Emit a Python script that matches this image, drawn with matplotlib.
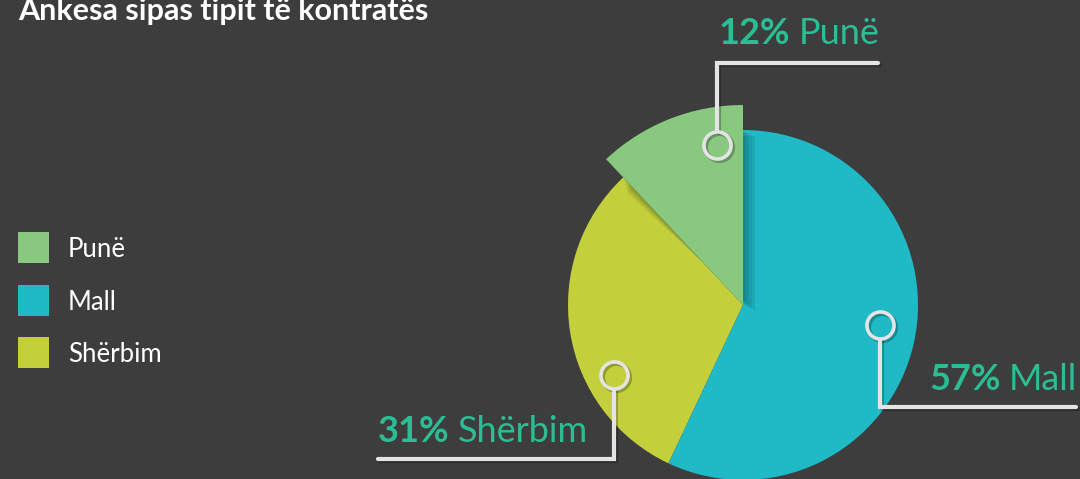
"""Pie chart of complaints by contract type, with callout labels."""

import matplotlib
matplotlib.use('Agg')
import matplotlib.pyplot as plt
from matplotlib.patches import Wedge, Circle, Rectangle

# data
categories = ['Punë', 'Shërbim', 'Mall']
shares = [12, 31, 57]
legend_order = ['Punë', 'Mall', 'Shërbim']
colors = {'Punë': '#88c97f', 'Mall': '#20b9c6', 'Shërbim': '#c3d03c'}
title = 'Ankesa sipas tipit të kontratës'

BG = '#3d3d3d'
LABEL = '#2bbd93'
LINE = '#e4e4e4'
FONT = 'Lato'

W, H = 1080, 479
CX, CY = 743, 174      # pie centre in pixel coords (y up)
R = 175
R_BIG = 200             # Punë slice sticks out

# callout layout: ring, elbow, end of line, label start
callouts = {
    'Punë':    dict(ring=(717, 334), elbow=(717, 416), end=(878, 416), text=(719, 429)),
    'Mall':    dict(ring=(880, 154), elbow=(880, 72), end=(1076, 72), text=(929, 83)),
    'Shërbim': dict(ring=(614, 104), elbow=(614, 20), end=(378, 20), text=(378, 31)),
}

fig = plt.figure(figsize=(W / 100, H / 100), dpi=100, facecolor=BG)
ax = fig.add_axes([0, 0, 1, 1])
ax.set_facecolor(BG)

wedges, _ = ax.pie(shares, colors=[colors[c] for c in categories], radius=R,
                   center=(CX, CY), startangle=90, counterclock=True, frame=True,
                   wedgeprops=dict(linewidth=0))
pune = wedges[categories.index('Punë')]
pune.set_radius(R_BIG)
pune.set_zorder(3)

# soft shadow of the raised slice
clip = Circle((CX, CY), R, transform=ax.transData)
for k in range(1, 5):
    sh = Wedge((CX + 3 * k, CY - 1.5 * k), R, pune.theta1, pune.theta2 + 1.0 * k,
               facecolor='black', alpha=0.07, lw=0, zorder=2)
    ax.add_patch(sh)
    sh.set_clip_path(clip)

# callouts
for name, c in callouts.items():
    rx, ry = c['ring']
    ex, ey = c['elbow']
    tx, ty = c['end']
    step = 14 if ey > ry else -14
    # shadow
    ax.plot([rx + 2, ex + 2, tx + 2], [ry + step - 2, ey - 2, ty - 2],
            color='black', alpha=0.25, lw=3, solid_capstyle='round', zorder=4)
    ax.plot(rx + 2, ry - 2, 'o', ms=19.5, mfc='none', mec='black', mew=3,
            alpha=0.25, zorder=4)
    ax.plot([rx, ex, tx], [ry + step, ey, ty], color=LINE, lw=3,
            solid_capstyle='round', solid_joinstyle='miter', zorder=5)
    ax.plot(rx, ry, 'o', ms=19.5, mfc='none', mec=LINE, mew=2.6, zorder=5)

    share = shares[categories.index(name)]
    x0, y0 = c['text']
    pct = ax.text(x0, y0, f'{share}%', color=LABEL, fontsize=26,
                  fontweight='bold', family=FONT, va='bottom', ha='left')
    ax.annotate(name, xy=(1, 0), xycoords=pct, xytext=(6, 0),
                textcoords='offset points', color=LABEL, fontsize=26,
                fontweight='normal', family=FONT, va='bottom', ha='left')

# legend
for i, name in enumerate(legend_order):
    yb = 216 - i * 52.5
    ax.add_patch(Rectangle((18, yb), 31, 31, facecolor=colors[name], lw=0))
    ax.text(68, yb + 13.5, name, color='white', fontsize=18.5, family=FONT,
            va='center', ha='left')

ax.text(18, 459, title, color='white', fontsize=22, fontweight='bold',
        family=FONT, va='baseline', ha='left')

ax.set_xlim(0, W)
ax.set_ylim(0, H)
ax.set_aspect('auto')
ax.axis('off')

fig.savefig('out.png', dpi=100, facecolor=BG)
